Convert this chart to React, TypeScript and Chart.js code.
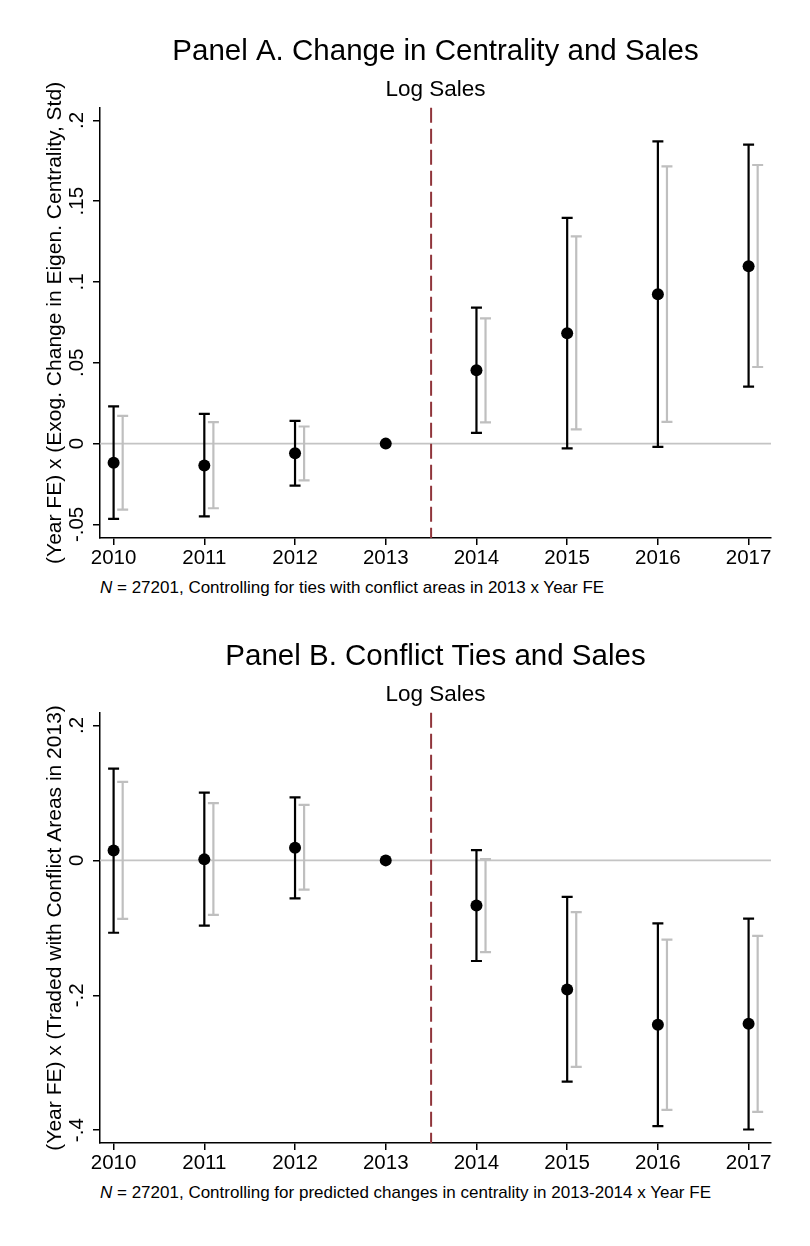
import React, { useEffect, useRef } from 'react';
import { Chart, registerables } from 'chart.js';

Chart.register(...registerables);

const years = [2010, 2011, 2012, 2013, 2014, 2015, 2016, 2017];

// Panel A: change in centrality and sales
const coefA = [-0.0118, -0.0136, -0.0059, 0, 0.0454, 0.0683, 0.0925, 0.1098];
const hi95A = [0.023, 0.0184, 0.0141, null, 0.0841, 0.1397, 0.187, 0.185];
const lo95A = [-0.0466, -0.045, -0.026, null, 0.0067, -0.003, -0.002, 0.0353];
const hi90A = [0.0172, 0.0133, 0.0106, null, 0.0775, 0.1282, 0.1716, 0.1724];
const lo90A = [-0.0408, -0.04, -0.0228, null, 0.0131, 0.0088, 0.0135, 0.0474];
const yTicksA = [-0.05, 0, 0.05, 0.1, 0.15, 0.2];
const yLabelsA = ['-.05', '0', '.05', '.1', '.15', '.2'];

// Panel B: conflict ties and sales
const coefB = [0.0148, 0.0015, 0.0189, 0, -0.0669, -0.1916, -0.2437, -0.2421];
const hi95B = [0.1359, 0.1006, 0.0935, null, 0.0153, -0.0542, -0.0935, -0.0863];
const lo95B = [-0.1073, -0.0966, -0.0562, null, -0.1492, -0.328, -0.3939, -0.399];
const hi90B = [0.1165, 0.0848, 0.0822, null, 0.002, -0.0766, -0.1175, -0.1119];
const lo90B = [-0.0868, -0.0807, -0.0434, null, -0.1359, -0.306, -0.3699, -0.373];
const yTicksB = [-0.4, -0.2, 0, 0.2];
const yLabelsB = ['-.4', '-.2', '0', '.2'];

const FONT = "'Liberation Sans', Arial, Helvetica, sans-serif";
const BLACK = '#000000';
const GRAY = '#bfbfbf';
const RED = 'rgb(144,53,59)';

interface PanelProps {
  top: number;
  title: string;
  yTitle: string;
  coef: number[];
  hi95: (number | null)[];
  lo95: (number | null)[];
  hi90: (number | null)[];
  lo90: (number | null)[];
  yTicks: number[];
  yLabels: string[];
  yMin: number;
  yMax: number;
  tickPad: number;
  note: string;
}

const Panel: React.FC<PanelProps> = (p) => {
  const canvasRef = useRef<HTMLCanvasElement | null>(null);

  useEffect(() => {
    if (!canvasRef.current) return;

    // zero line, event line and the two sets of confidence bars
    const ciPlugin = {
      id: 'ciBars',
      beforeDatasetsDraw(chart: any) {
        const { ctx, chartArea, scales } = chart;
        const xs = scales.x;
        const ys = scales.y;
        ctx.save();

        const y0 = ys.getPixelForValue(0);
        ctx.strokeStyle = '#c4c4c4';
        ctx.lineWidth = 1.6;
        ctx.beginPath();
        ctx.moveTo(chartArea.left, y0);
        ctx.lineTo(chartArea.right, y0);
        ctx.stroke();

        const xe = xs.getPixelForValue(2013.5);
        ctx.strokeStyle = RED;
        ctx.lineWidth = 2;
        ctx.setLineDash([15, 6]);
        ctx.beginPath();
        ctx.moveTo(xe, chartArea.top);
        ctx.lineTo(xe, chartArea.bottom);
        ctx.stroke();
        ctx.setLineDash([]);

        const drawBars = (lo: (number | null)[], hi: (number | null)[], shift: number, color: string) => {
          ctx.strokeStyle = color;
          ctx.lineWidth = 2.2;
          years.forEach((yr, i) => {
            const l = lo[i];
            const h = hi[i];
            if (l == null || h == null) return;
            const x = xs.getPixelForValue(yr + shift);
            const yl = ys.getPixelForValue(l);
            const yh = ys.getPixelForValue(h);
            ctx.beginPath();
            ctx.moveTo(x, yl);
            ctx.lineTo(x, yh);
            ctx.moveTo(x - 5.5, yl);
            ctx.lineTo(x + 5.5, yl);
            ctx.moveTo(x - 5.5, yh);
            ctx.lineTo(x + 5.5, yh);
            ctx.stroke();
          });
        };
        drawBars(p.lo90, p.hi90, 0.1, GRAY);
        drawBars(p.lo95, p.hi95, 0, BLACK);
        ctx.restore();
      },
    };

    const chart = new Chart(canvasRef.current, {
      type: 'scatter',
      data: {
        datasets: [
          {
            data: years.map((x, i) => ({ x, y: p.coef[i] })),
            backgroundColor: BLACK,
            borderColor: BLACK,
            pointRadius: 6,
            pointHoverRadius: 6,
            borderWidth: 0,
          },
        ],
      },
      options: {
        animation: false,
        responsive: true,
        maintainAspectRatio: false,
        layout: { padding: { left: 0, right: 39, top: 0, bottom: 0 } },
        plugins: {
          legend: { display: false },
          tooltip: { enabled: false },
          title: {
            display: true,
            text: p.title,
            fullSize: false,
            color: BLACK,
            font: { family: FONT, size: 29.5, weight: 'normal' },
            padding: { top: 34.3, bottom: 0 },
          },
          subtitle: {
            display: true,
            text: 'Log Sales',
            fullSize: false,
            color: BLACK,
            font: { family: FONT, size: 22.5, weight: 'normal' },
            padding: { top: 6.5, bottom: 4.6 },
          },
        },
        scales: {
          x: {
            type: 'linear',
            min: 2009.85,
            max: 2017.247,
            afterBuildTicks: (s: any) => {
              s.ticks = years.map((v) => ({ value: v }));
            },
            afterFit: (s: any) => {
              s.height = 37;
            },
            ticks: {
              color: BLACK,
              font: { family: FONT, size: 20.5 },
              padding: 1,
              maxRotation: 0,
              autoSkip: false,
              callback: (v: any) => String(v),
            },
            grid: { drawOnChartArea: false, drawTicks: true, tickLength: 7, color: BLACK, lineWidth: 1.5 },
            border: { display: true, color: BLACK, width: 1.5 },
          },
          y: {
            type: 'linear',
            min: p.yMin,
            max: p.yMax,
            afterBuildTicks: (s: any) => {
              s.ticks = p.yTicks.map((v) => ({ value: v }));
            },
            afterFit: (s: any) => {
              s.width = 100;
            },
            ticks: {
              color: BLACK,
              font: { family: FONT, size: 20.5 },
              padding: p.tickPad,
              minRotation: 90,
              maxRotation: 90,
              crossAlign: 'center',
              autoSkip: false,
              callback: (_v: any, i: number) => p.yLabels[i],
            },
            grid: { drawOnChartArea: false, drawTicks: true, tickLength: 7, color: BLACK, lineWidth: 1.5 },
            border: { display: true, color: BLACK, width: 1.5 },
            title: {
              display: true,
              text: p.yTitle,
              color: BLACK,
              font: { family: FONT, size: 21 },
              padding: { top: 42.4, bottom: 0 },
            },
          },
        },
      },
      plugins: [ciPlugin],
    } as any);

    return () => {
      chart.destroy();
    };
  }, [p]);

  return (
    <div style={{ position: 'absolute', left: 0, top: p.top, width: 810 }}>
      <div style={{ position: 'relative', width: 810, height: 575 }}>
        <canvas ref={canvasRef} />
      </div>
      <div
        style={{
          position: 'absolute',
          left: 100,
          top: 578,
          fontFamily: FONT,
          fontSize: 17,
          lineHeight: '20px',
          color: BLACK,
          whiteSpace: 'nowrap',
        }}
      >
        <i>N</i> = 27201, {p.note}
      </div>
    </div>
  );
};

const panelA: PanelProps = {
  top: 0,
  title: 'Panel A. Change in Centrality and Sales',
  yTitle: '(Year FE) x (Exog. Change in Eigen. Centrality, Std)',
  coef: coefA,
  hi95: hi95A,
  lo95: lo95A,
  hi90: hi90A,
  lo90: lo90A,
  yTicks: yTicksA,
  yLabels: yLabelsA,
  yMin: -0.0584,
  yMax: 0.2078,
  tickPad: -1.7,
  note: 'Controlling for ties with conflict areas in 2013 x Year FE',
};

const panelB: PanelProps = {
  top: 605,
  title: 'Panel B. Conflict Ties and Sales',
  yTitle: '(Year FE) x (Traded with Conflict Areas in 2013)',
  coef: coefB,
  hi95: hi95B,
  lo95: lo95B,
  hi90: hi90B,
  lo90: lo90B,
  yTicks: yTicksB,
  yLabels: yLabelsB,
  yMin: -0.419,
  yMax: 0.2188,
  tickPad: 4,
  note: 'Controlling for predicted changes in centrality in 2013-2014 x Year FE',
};

export default function App() {
  return (
    <div style={{ position: 'absolute', left: 0, top: 0, width: 810, height: 1246, background: '#fff' }}>
      <Panel {...panelA} />
      <Panel {...panelB} />
    </div>
  );
}
